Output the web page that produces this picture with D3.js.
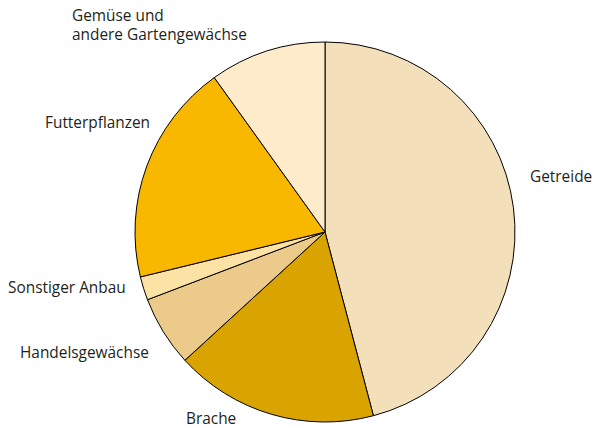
<!DOCTYPE html>
<html>
<head>
<meta charset="utf-8">
<script src="https://cdn.jsdelivr.net/npm/d3@7"></script>
<style>
  body { margin: 0; background: #fff; }
  svg { display: block; }
</style>
</head>
<body>
<div id="mychart"></div>
<script>
// land use shares (percent)
const categories = ["Getreide", "Brache", "Handelsgewächse", "Sonstiger Anbau", "Futterpflanzen", "Gemüse und andere Gartengewächse"]
const shares = [45.9, 17.3, 6.0, 2.0, 18.9, 9.9]
const colors = ["#f3dfb9", "#d9a300", "#ebca8a", "#fde2a6", "#f8b800", "#feebc9"]

// label lines (some wrap)
const labelLines = [["Getreide"], ["Brache"], ["Handelsgewächse"], ["Sonstiger Anbau"], ["Futterpflanzen"], ["Gemüse und", "andere Gartengewächse"]]

const chartWidth = 594
const chartHeight = 428
const cx = 325
const cy = 232
const radius = 190
const labelSize = "15.4px"
const lineGap = 19

// where each label sits (left x, first baseline)
const labelAt = [[530, 182], [186, 424], [20, 358], [8, 293], [45, 128], [72, 21]]

const data = categories.map((c, i) => ({ name: c, value: shares[i], color: colors[i], lines: labelLines[i], at: labelAt[i] }))

const pie = d3.pie().sort(null).value(d => d.value)
const arc = d3.arc().innerRadius(0).outerRadius(radius)

const svg = d3.select("#mychart")
  .append("svg")
  .attr("width", chartWidth)
  .attr("height", chartHeight)
  .attr("viewBox", [0, 0, chartWidth, chartHeight])

svg.append("g")
    .attr("transform", `translate(${cx},${cy})`)
    .attr("stroke", "#000")
    .attr("stroke-width", 1)
    .attr("stroke-linejoin", "round")
  .selectAll("path")
  .data(pie(data))
  .join("path")
    .attr("fill", d => d.data.color)
    .attr("d", arc)

// labels, one text per line
svg.append("g")
    .attr("font-family", "'Open Sans', sans-serif")
    .attr("font-size", labelSize)
    .attr("fill", "#231f20")
  .selectAll("text")
  .data(data.flatMap(d => d.lines.map((l, i) => ({ text: l, x: d.at[0], y: d.at[1] + i * lineGap }))))
  .join("text")
    .attr("x", d => d.x)
    .attr("y", d => d.y)
    .text(d => d.text)
</script>
</body>
</html>
